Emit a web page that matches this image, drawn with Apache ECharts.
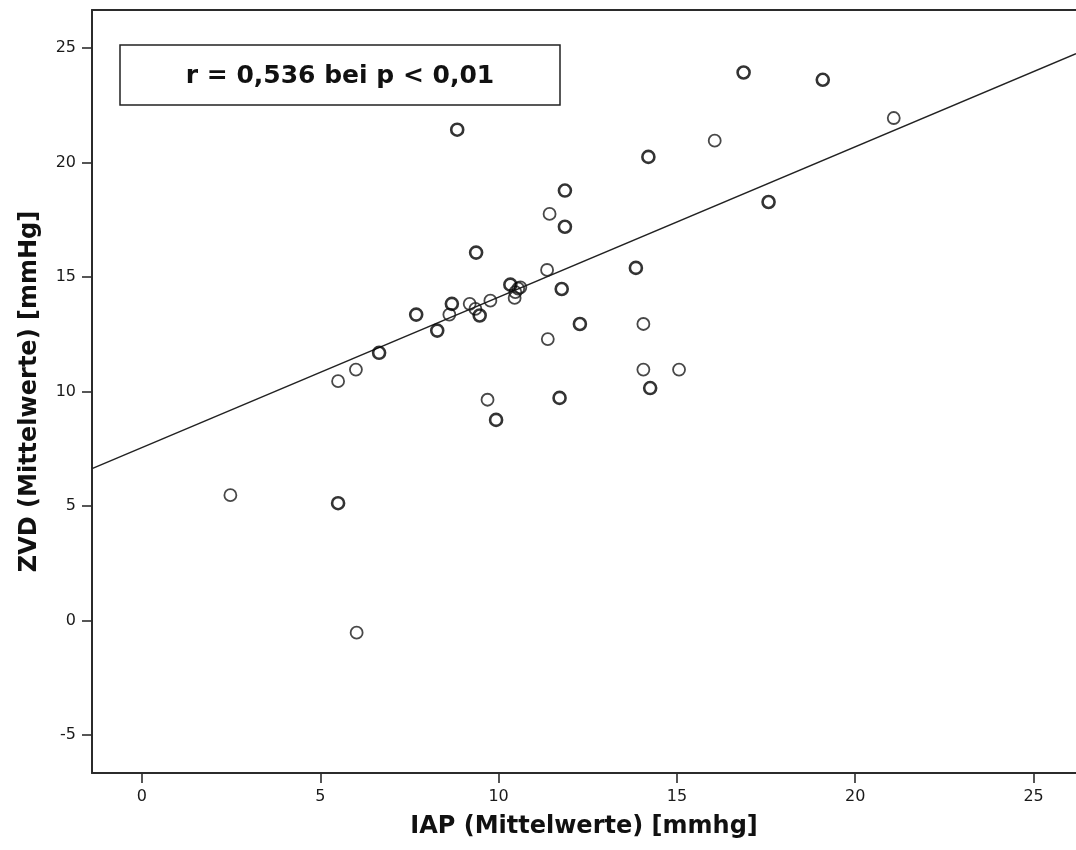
<!DOCTYPE html>
<html>
<head>
<meta charset="utf-8">
<title>ZVD vs IAP</title>
<script src="https://cdn.jsdelivr.net/npm/echarts@6/dist/echarts.min.js"></script>
<style>
  html, body { margin: 0; padding: 0; background: #fff; }
  #chart { width: 1076px; height: 850px; }
</style>
</head>
<body>
<div id="chart"></div>
<script>
// Mean IAP (x) and mean ZVD (y) per patient, mmHg.
// Observations drawn with a heavier outline (tied / overlapping cases)
const heavyPoints = [
  [8.84, 21.44], [14.20, 20.25], [11.86, 18.78], [11.86, 17.20], [9.37, 16.07],
  [13.85, 15.40], [11.77, 14.48], [7.69, 13.36], [12.28, 12.95], [8.28, 12.66],
  [6.65, 11.69], [11.71, 9.72], [9.93, 8.76], [14.25, 10.15], [5.50, 5.12],
  [16.87, 23.94], [19.09, 23.62], [17.57, 18.28], [10.33, 14.67], [8.69, 13.83],
  [9.47, 13.32]
];
// Single observations
const lightPoints = [
  [11.43, 17.76], [11.36, 15.31], [9.77, 13.97], [11.38, 12.29], [14.06, 12.95],
  [14.06, 10.96], [15.06, 10.96], [6.00, 10.96], [5.50, 10.45], [9.69, 9.64],
  [2.48, 5.47], [6.02, -0.54], [16.06, 20.96], [21.08, 21.95], [8.62, 13.36],
  [9.19, 13.83], [9.35, 13.61], [10.61, 14.55], [10.47, 14.34], [10.45, 14.09],
  [10.55, 14.50]
];

// Linear fit ZVD = intercept + slope * IAP
const fitIntercept = 7.55;
const fitSlope = 0.657;

// Axis ranges and tick values
const xRange = [-1.40, 26.19];
const yRange = [-6.67, 26.67];
const xTicks = [0, 5, 10, 15, 20, 25];
const yTicks = [-5, 0, 5, 10, 15, 20, 25];

const annotation = 'r = 0,536 bei p < 0,01';
const xName = 'IAP (Mittelwerte) [mmhg]';
const yName = 'ZVD (Mittelwerte) [mmHg]';

const fitLine = xRange.map(x => [x, fitIntercept + fitSlope * x]);

const axisColor = '#2b2b2b';
const labelFont = { color: '#1a1a1a', fontFamily: 'DejaVu Sans', fontSize: 16 };
const nameFont = { color: '#111', fontFamily: 'DejaVu Sans', fontSize: 24, fontWeight: 'bold' };

const chart = echarts.init(document.getElementById('chart'), null, { renderer: 'canvas' });

chart.setOption({
  animation: false,
  backgroundColor: '#fff',
  grid: { left: 92, right: 0, top: 10, bottom: 77 },
  xAxis: [
    {
      type: 'value',
      min: xRange[0], max: xRange[1],
      name: xName, nameLocation: 'middle', nameGap: 42, nameTextStyle: nameFont,
      axisLine: { show: true, onZero: false, lineStyle: { color: axisColor, width: 2 } },
      axisTick: { show: true, length: 10, customValues: xTicks, lineStyle: { color: axisColor, width: 1.6 } },
      axisLabel: Object.assign({ margin: 16, customValues: xTicks, formatter: v => String(v) }, labelFont),
      splitLine: { show: false }
    },
    {
      // top frame line
      type: 'value',
      position: 'top',
      min: xRange[0], max: xRange[1],
      axisLine: { show: true, onZero: false, lineStyle: { color: axisColor, width: 2 } },
      axisTick: { show: false },
      axisLabel: { show: false },
      splitLine: { show: false }
    }
  ],
  yAxis: {
    type: 'value',
    min: yRange[0], max: yRange[1],
    name: yName, nameLocation: 'middle', nameGap: 50, nameTextStyle: nameFont,
    axisLine: { show: true, onZero: false, lineStyle: { color: axisColor, width: 2 } },
    axisTick: { show: true, length: 10, customValues: yTicks, lineStyle: { color: axisColor, width: 1.6 } },
    axisLabel: Object.assign({ margin: 16, customValues: yTicks, formatter: v => String(v) }, labelFont),
    splitLine: { show: false }
  },
  series: [
    {
      type: 'line',
      data: fitLine,
      symbol: 'none',
      lineStyle: { color: '#222', width: 1.5 },
      silent: true,
      z: 2
    },
    {
      type: 'scatter',
      data: lightPoints,
      symbol: 'circle',
      symbolSize: 12,
      itemStyle: { color: 'transparent', borderColor: '#1a1a1a', borderWidth: 1.8 },
      z: 3
    },
    {
      type: 'scatter',
      data: heavyPoints,
      symbol: 'circle',
      symbolSize: 12,
      itemStyle: { color: 'transparent', borderColor: '#000', borderWidth: 2.6 },
      z: 4
    }
  ],
  graphic: [
    {
      type: 'rect',
      x: 120, y: 45,
      shape: { width: 440, height: 60 },
      style: { fill: '#fff', stroke: '#222', lineWidth: 1.5 },
      z: 10
    },
    {
      type: 'text',
      x: 340, y: 76,
      style: {
        text: annotation,
        fill: '#111',
        font: 'bold 25px "DejaVu Sans"',
        align: 'center',
        verticalAlign: 'middle'
      },
      z: 11
    }
  ]
});
</script>
</body>
</html>
